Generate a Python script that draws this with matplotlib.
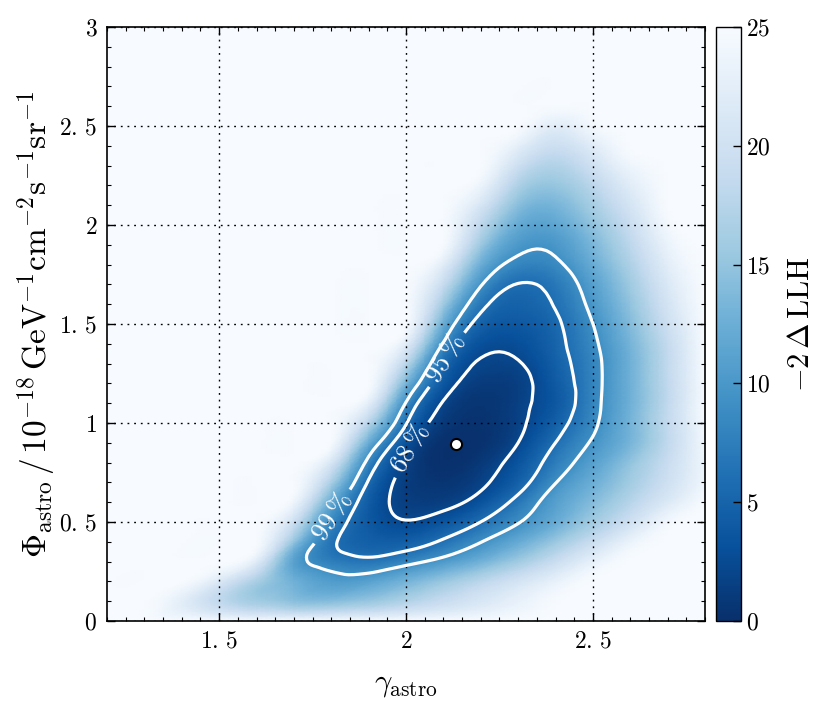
import numpy as np
import matplotlib
matplotlib.use('Agg')
import matplotlib.pyplot as plt
import matplotlib.tri as mtri
from matplotlib.ticker import MultipleLocator

plt.rcParams['font.family'] = 'serif'
plt.rcParams['font.serif'] = ['cmr10']
plt.rcParams['mathtext.fontset'] = 'cm'
plt.rcParams['axes.formatter.use_mathtext'] = True

# scan grid
gamma_vals = [1.2, 1.3, 1.4, 1.5, 1.6, 1.7, 1.8, 1.9, 2.0, 2.1, 2.2, 2.3, 2.4, 2.5, 2.6, 2.7, 2.8]
phi_vals = [0.0, 0.1, 0.2, 0.3, 0.4, 0.5, 0.6, 0.7, 0.8, 0.9, 1.0, 1.1, 1.2, 1.3, 1.4, 1.5,
            1.6, 1.7, 1.8, 1.9, 2.0, 2.1, 2.2, 2.3, 2.4, 2.5, 2.6, 2.7, 2.8, 2.9, 3.0]

# -2 Delta LLH, one row per phi value, columns follow gamma_vals (capped at 25)
llh = [
    [25, 25, 25, 25, 25, 25, 25, 25, 25, 25, 25, 25, 25, 25, 25, 25, 25],
    [25, 25, 22.5, 18.5, 16.0, 14.5, 14.2, 15.3, 17.1, 19.1, 21.1, 23.1, 24.8, 25, 25, 25, 25],
    [25, 25, 25, 21.5, 16.5, 12.8, 10.6, 11.1, 13.1, 15.4, 17.9, 20.5, 23.1, 25, 25, 25, 25],
    [25, 25, 25, 25, 22.0, 11.2, 7.6, 6.7, 8.2, 10.3, 12.9, 15.9, 19.3, 23.0, 25, 25, 25],
    [25, 25, 25, 25, 25, 15.0, 6.6, 4.6, 4.6, 6.4, 9.1, 12.1, 15.5, 19.3, 23.4, 25, 25],
    [25, 25, 25, 25, 25, 19.6, 8.6, 4.0, 2.45, 3.6, 6.0, 9.0, 12.3, 16.0, 20.0, 24.3, 25],
    [25, 25, 25, 25, 25, 23.8, 12.0, 4.3, 1.5, 1.5, 3.4, 6.9, 10.9, 14.1, 17.6, 21.6, 25],
    [25, 25, 25, 25, 25, 25, 16.5, 5.7, 1.4, 0.55, 1.75, 4.7, 9.1, 12.5, 16.0, 19.9, 24.1],
    [25, 25, 25, 25, 25, 25, 21.0, 8.2, 1.9, 0.15, 0.9, 3.5, 7.4, 11.0, 14.9, 19.2, 24.0],
    [25, 25, 25, 25, 25, 25, 24.8, 12.3, 3.5, 0.2, 0.3, 2.3, 6.0, 9.6, 13.3, 18.4, 24.4],
    [25, 25, 25, 25, 25, 25, 25, 17.5, 6.2, 1.0, 0.35, 1.75, 4.7, 8.6, 13.1, 18.6, 24.8],
    [25, 25, 25, 25, 25, 25, 25, 22.5, 9.0, 2.1, 0.55, 1.6, 3.9, 8.2, 12.8, 18.4, 25],
    [25, 25, 25, 25, 25, 25, 25, 25, 13.2, 3.9, 1.2, 1.55, 4.1, 8.1, 12.8, 18.4, 25],
    [25, 25, 25, 25, 25, 25, 25, 25, 17.8, 5.8, 2.05, 2.15, 4.6, 8.2, 12.8, 18.5, 25],
    [25, 25, 25, 25, 25, 25, 25, 25, 22.2, 8.9, 3.2, 2.95, 5.1, 8.6, 13.2, 18.8, 25],
    [25, 25, 25, 25, 25, 25, 25, 25, 25, 12.4, 4.9, 3.9, 5.5, 9.2, 14.0, 19.7, 25],
    [25, 25, 25, 25, 25, 25, 25, 25, 25, 15.8, 6.9, 4.85, 6.2, 10.1, 14.9, 20.6, 25],
    [25, 25, 25, 25, 25, 25, 25, 25, 25, 19.0, 9.5, 5.9, 7.0, 11.0, 15.8, 21.4, 25],
    [25, 25, 25, 25, 25, 25, 25, 25, 25, 22.2, 12.5, 8.2, 8.6, 12.3, 16.9, 22.4, 25],
    [25, 25, 25, 25, 25, 25, 25, 25, 25, 24.8, 15.6, 10.2, 10.0, 13.5, 18.1, 23.4, 25],
    [25, 25, 25, 25, 25, 25, 25, 25, 25, 25, 18.2, 12.2, 11.6, 14.9, 19.3, 24.4, 25],
    [25, 25, 25, 25, 25, 25, 25, 25, 25, 25, 20.9, 14.4, 13.3, 16.4, 20.7, 25, 25],
    [25, 25, 25, 25, 25, 25, 25, 25, 25, 25, 23.6, 16.9, 15.2, 18.0, 22.2, 25, 25],
    [25, 25, 25, 25, 25, 25, 25, 25, 25, 25, 25, 19.7, 17.2, 20.0, 23.8, 25, 25],
    [25, 25, 25, 25, 25, 25, 25, 25, 25, 25, 25, 22.7, 19.6, 22.2, 25, 25, 25],
    [25, 25, 25, 25, 25, 25, 25, 25, 25, 25, 25, 25, 22.3, 24.4, 25, 25, 25],
    [25, 25, 25, 25, 25, 25, 25, 25, 25, 25, 25, 25, 24.8, 25, 25, 25, 25],
    [25, 25, 25, 25, 25, 25, 25, 25, 25, 25, 25, 25, 25, 25, 25, 25, 25],
    [25, 25, 25, 25, 25, 25, 25, 25, 25, 25, 25, 25, 25, 25, 25, 25, 25],
    [25, 25, 25, 25, 25, 25, 25, 25, 25, 25, 25, 25, 25, 25, 25, 25, 25],
    [25, 25, 25, 25, 25, 25, 25, 25, 25, 25, 25, 25, 25, 25, 25, 25, 25],
]

best_fit_gamma = 2.133
best_fit_phi = 0.894

cl_levels = [2.30, 5.99, 9.21]
cl_names = [r'$68\,\%$', r'$95\,\%$', r'$99\,\%$']

# regular triangulation of the scan grid; smooth sqrt(-2 dLLH) with matplotlib's tri tools
G, P = np.meshgrid(gamma_vals, phi_vals)
Z = np.array(llh, dtype=float)
ny, nx = Z.shape
idx = np.arange(ny * nx).reshape(ny, nx)
a = idx[:-1, :-1].ravel()
b = idx[:-1, 1:].ravel()
c = idx[1:, 1:].ravel()
d = idx[1:, :-1].ravel()
triangles = np.concatenate([np.column_stack([a, b, c]), np.column_stack([a, c, d])])
tri = mtri.Triangulation(G.ravel(), P.ravel(), triangles)
sig = np.sqrt(Z.ravel())
interp = mtri.CubicTriInterpolator(tri, sig, kind='min_E')
refiner = mtri.UniformTriRefiner(tri)
tri_f, sig_f = refiner.refine_field(sig, triinterpolator=interp, subdiv=3)
z_f = np.clip(sig_f, 0, None) ** 2

fig = plt.figure(figsize=(8.31, 7.10), dpi=100)
ax = fig.add_axes([0.1288, 0.1254, 0.7196, 0.8366])
cax = fig.add_axes([0.8616, 0.1254, 0.0301, 0.8366])

im = ax.tripcolor(tri_f, z_f, shading='gouraud', cmap='Blues_r', vmin=0, vmax=25,
                  rasterized=True, zorder=1)
cs = ax.tricontour(tri_f, z_f, levels=cl_levels, colors='white', linewidths=2.3, zorder=3)
ax.clabel(cs, fmt=dict(zip(cs.levels, cl_names)), fontsize=19, inline=True,
          inline_spacing=6, manual=[(2.01, 0.87), (2.10, 1.33), (1.80, 0.53)])

ax.plot(best_fit_gamma, best_fit_phi, 'o', ms=8, mfc='white', mec='black', mew=1.5, zorder=5)

ax.set_xlim(1.2, 2.8)
ax.set_ylim(0, 3)
ax.set_xticks([1.5, 2.0, 2.5])
ax.set_xticklabels([r'$1.\,5$', r'$2$', r'$2.\,5$'])
ax.set_yticks([0, 0.5, 1, 1.5, 2, 2.5, 3])
ax.set_yticklabels([r'$0$', r'$0.\,5$', r'$1$', r'$1.\,5$', r'$2$', r'$2.\,5$', r'$3$'])
ax.xaxis.set_minor_locator(MultipleLocator(0.05))
ax.yaxis.set_minor_locator(MultipleLocator(0.1))
ax.tick_params(which='both', direction='in', top=True, right=True, labelsize=17)
ax.tick_params(which='major', length=6, width=1, pad=7)
ax.tick_params(which='minor', length=3, width=0.8)
for sp in ax.spines.values():
    sp.set_linewidth(1.2)

ax.set_axisbelow(False)
ax.grid(True, which='major', color='black', linestyle=(0, (1.3, 3.5)), linewidth=1.0)

ax.set_xlabel(r'$\gamma_{\mathrm{astro}}$', fontsize=22)
ax.xaxis.set_label_coords(0.5, -0.085)
ax.set_ylabel(r'$\Phi_{\mathrm{astro}}\,/\,10^{-18}\,\mathrm{GeV}^{-1}\mathrm{cm}^{-2}\mathrm{s}^{-1}\mathrm{sr}^{-1}$',
              fontsize=24)
ax.yaxis.set_label_coords(-0.082, 0.5)

cb = fig.colorbar(im, cax=cax)
cb.set_ticks([0, 5, 10, 15, 20, 25])
cb.set_ticklabels([r'$0$', r'$5$', r'$10$', r'$15$', r'$20$', r'$25$'])
cax.tick_params(direction='in', length=6, width=1, labelsize=17)
cb.outline.set_linewidth(1.0)
cb.set_label(r'$-2\,\Delta\,\mathrm{LLH}$', fontsize=22, labelpad=12)

fig.savefig('out.png', dpi=100)
